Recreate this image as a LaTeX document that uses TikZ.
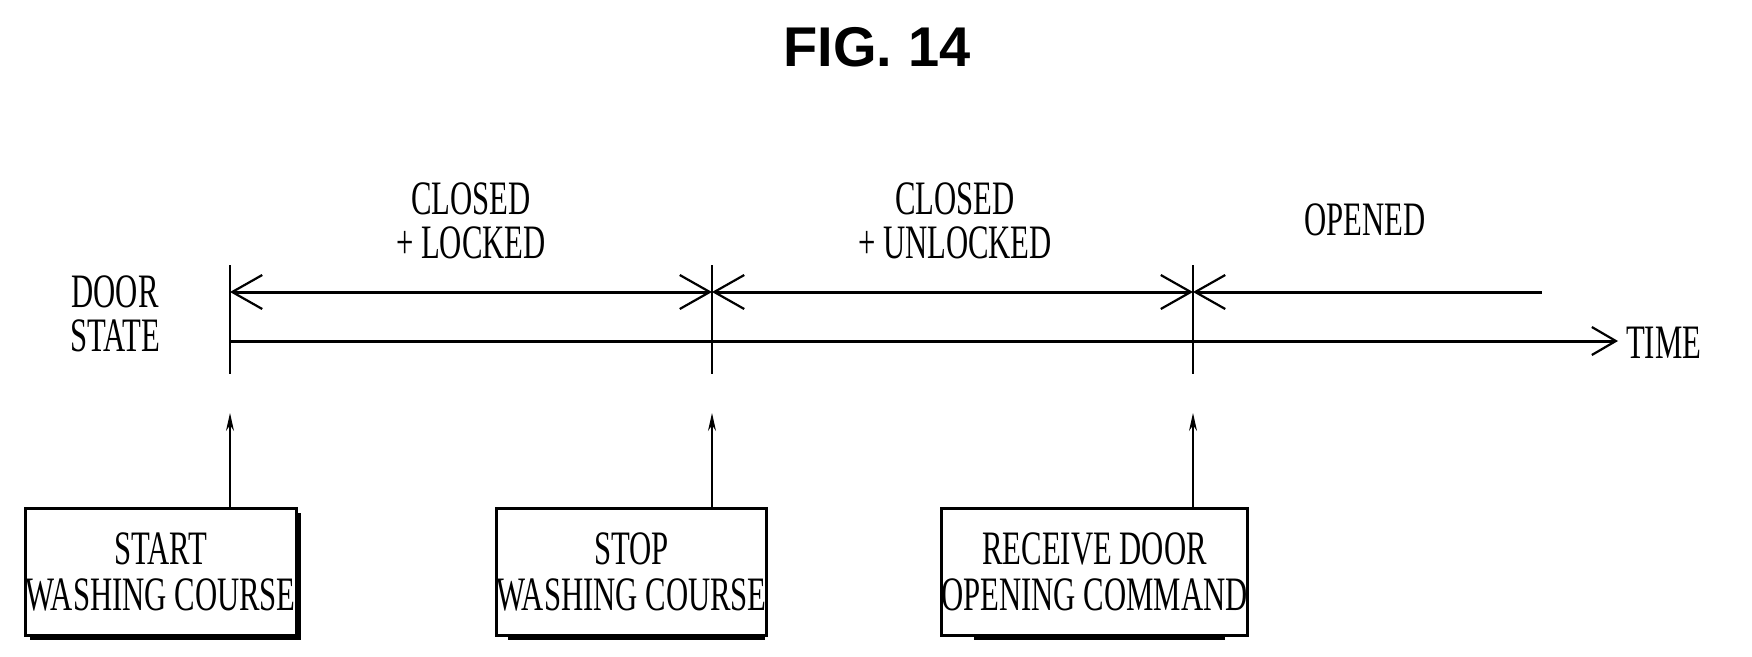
\documentclass[tikz,border=0pt]{standalone}
\usepackage{fontspec}
\setmainfont{Liberation Serif}[FakeStretch=0.64]
\newfontfamily\titlefont{Liberation Sans}[BoldFont={Liberation Sans Bold}]
\usetikzlibrary{arrows.meta}
\begin{document}
\begin{tikzpicture}[x=1pt,y=-1pt,
  lbl/.style={font=\fontsize{48}{50}\selectfont, inner sep=0pt, align=center},
  box/.style={draw, line width=3pt, fill=white, minimum width=#1, minimum height=127pt, inner sep=0pt, align=center, font=\fontsize{48}{46}\selectfont},
  span/.style={line width=3pt, {Straight Barb[length=30pt,width=34pt,line width=2.2pt]}-{Straight Barb[length=30pt,width=34pt,line width=2.2pt]}},
  spanl/.style={line width=3pt, {Straight Barb[length=30pt,width=34pt,line width=2.2pt]}-},
  evline/.style={line width=1.4pt},
  up/.style={line width=1.4pt, -{Stealth[length=18pt,width=8pt]}}]
\useasboundingbox (0,0) rectangle (1752,656);
\node[font=\titlefont\bfseries\fontsize{56}{56}\selectfont] (title) at (877,47) {FIG. 14};
\node[lbl] (door) at (115,314) {DOOR\\[-6pt]STATE};
\node[lbl] (s1) at (471,221) {CLOSED\\[-6pt]+ LOCKED};
\node[lbl] (s2) at (955,221) {CLOSED\\[-6pt]+ UNLOCKED};
\node[lbl] (s3) at (1365,220) {OPENED};
\node[lbl, anchor=west] (time) at (1626,343) {TIME};
% box shadows
\fill (30,513) rectangle (301,640);
\fill (508,513) rectangle (765,640);
\fill (974,513) rectangle (1225,640);
\node[box=271pt] (b1) at (160.5,571.5) {START\\WASHING COURSE};
\node[box=257pt] (b2) at (631.5,571.5) {STOP\\WASHING COURSE};
\node[box=251pt] (b3) at (1094.5,571.5) {RECEIVE DOOR\\OPENING COMMAND};
% event markers
\coordinate (t1) at (230,292); \coordinate (t2) at (712,292); \coordinate (t3) at (1193,292);
\coordinate (e3) at (1542,292);
\coordinate (a0) at (230,341); \coordinate (a1) at (1618,341);
\foreach \c/\x in {1/230,2/712,3/1193}{
  \coordinate (m\c) at (\x,265); \coordinate (n\c) at (\x,374); \coordinate (p\c) at (\x,413);
  \draw[evline] (m\c) -- (n\c);
}
\draw[span] (t1) -- (t2);
\draw[span] (t2) -- (t3);
\draw[spanl] (t3) -- (e3);
\draw[line width=3pt, -{Straight Barb[length=24pt,width=28pt,line width=2.2pt]}] (a0) -- (a1);
\draw[up] (b1.north -| p1) -- (p1);
\draw[up] (b2.north -| p2) -- (p2);
\draw[up] (b3.north -| p3) -- (p3);
\end{tikzpicture}
\end{document}
